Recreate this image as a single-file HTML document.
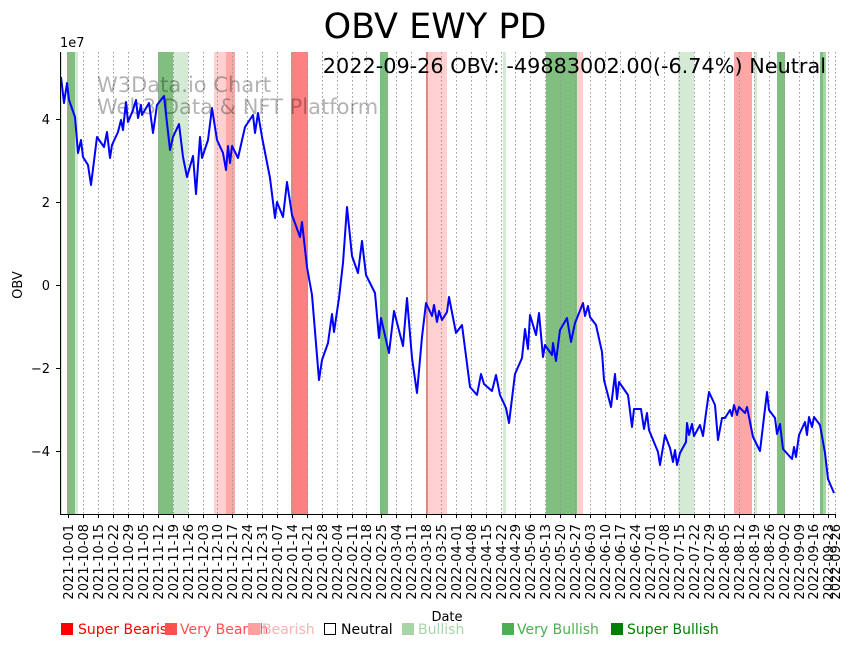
<!DOCTYPE html>
<html><head><meta charset="utf-8"><style>
html,body{margin:0;padding:0;background:#fff;}
svg{display:block;font-family:"DejaVu Sans","Liberation Sans",sans-serif;}
</style></head><body>
<svg width="853" height="646" viewBox="0 0 853 646" xmlns="http://www.w3.org/2000/svg">
<rect width="853" height="646" fill="#fff"/>
<g>
<rect x="60" y="52" width="2" height="462" fill="#d4ead4"/>
<rect x="67" y="52" width="8" height="462" fill="#80bf80"/>
<rect x="75" y="52" width="3" height="462" fill="#d4ead4"/>
<rect x="158" y="52" width="15" height="462" fill="#80bf80"/>
<rect x="173" y="52" width="15" height="462" fill="#d4ead4"/>
<rect x="214" y="52" width="12" height="462" fill="#ffd0d0"/>
<rect x="226" y="52" width="9" height="462" fill="#ffa6a6"/>
<rect x="291" y="52" width="17" height="462" fill="#ff8080"/>
<rect x="380" y="52" width="8" height="462" fill="#80bf80"/>
<rect x="426" y="52" width="2" height="462" fill="#ff8080"/>
<rect x="428" y="52" width="19" height="462" fill="#ffd0d0"/>
<rect x="503" y="52" width="3" height="462" fill="#d4ead4"/>
<rect x="546" y="52" width="31" height="462" fill="#80bf80"/>
<rect x="577" y="52" width="6" height="462" fill="#ffd0d0"/>
<rect x="678" y="52" width="16" height="462" fill="#d4ead4"/>
<rect x="734" y="52" width="18" height="462" fill="#ffa6a6"/>
<rect x="754" y="52" width="3" height="462" fill="#d4ead4"/>
<rect x="777" y="52" width="8" height="462" fill="#80bf80"/>
<rect x="820" y="52" width="3" height="462" fill="#80bf80"/>
<rect x="823" y="52" width="3" height="462" fill="#a8d4a8"/>
</g>
<g stroke="#999" stroke-width="1" stroke-dasharray="1.5,2.5">
<line x1="68.5" y1="52" x2="68.5" y2="514"/><line x1="83.5" y1="52" x2="83.5" y2="514"/><line x1="98.5" y1="52" x2="98.5" y2="514"/><line x1="113.5" y1="52" x2="113.5" y2="514"/><line x1="128.5" y1="52" x2="128.5" y2="514"/><line x1="143.5" y1="52" x2="143.5" y2="514"/><line x1="158.5" y1="52" x2="158.5" y2="514"/><line x1="173.5" y1="52" x2="173.5" y2="514"/><line x1="188.5" y1="52" x2="188.5" y2="514"/><line x1="203.5" y1="52" x2="203.5" y2="514"/><line x1="217.5" y1="52" x2="217.5" y2="514"/><line x1="232.5" y1="52" x2="232.5" y2="514"/><line x1="247.5" y1="52" x2="247.5" y2="514"/><line x1="262.5" y1="52" x2="262.5" y2="514"/><line x1="277.5" y1="52" x2="277.5" y2="514"/><line x1="292.5" y1="52" x2="292.5" y2="514"/><line x1="307.5" y1="52" x2="307.5" y2="514"/><line x1="322.5" y1="52" x2="322.5" y2="514"/><line x1="337.5" y1="52" x2="337.5" y2="514"/><line x1="352.5" y1="52" x2="352.5" y2="514"/><line x1="366.5" y1="52" x2="366.5" y2="514"/><line x1="381.5" y1="52" x2="381.5" y2="514"/><line x1="396.5" y1="52" x2="396.5" y2="514"/><line x1="411.5" y1="52" x2="411.5" y2="514"/><line x1="426.5" y1="52" x2="426.5" y2="514"/><line x1="441.5" y1="52" x2="441.5" y2="514"/><line x1="456.5" y1="52" x2="456.5" y2="514"/><line x1="471.5" y1="52" x2="471.5" y2="514"/><line x1="486.5" y1="52" x2="486.5" y2="514"/><line x1="501.5" y1="52" x2="501.5" y2="514"/><line x1="515.5" y1="52" x2="515.5" y2="514"/><line x1="530.5" y1="52" x2="530.5" y2="514"/><line x1="545.5" y1="52" x2="545.5" y2="514"/><line x1="560.5" y1="52" x2="560.5" y2="514"/><line x1="575.5" y1="52" x2="575.5" y2="514"/><line x1="590.5" y1="52" x2="590.5" y2="514"/><line x1="605.5" y1="52" x2="605.5" y2="514"/><line x1="620.5" y1="52" x2="620.5" y2="514"/><line x1="635.5" y1="52" x2="635.5" y2="514"/><line x1="650.5" y1="52" x2="650.5" y2="514"/><line x1="664.5" y1="52" x2="664.5" y2="514"/><line x1="679.5" y1="52" x2="679.5" y2="514"/><line x1="694.5" y1="52" x2="694.5" y2="514"/><line x1="709.5" y1="52" x2="709.5" y2="514"/><line x1="724.5" y1="52" x2="724.5" y2="514"/><line x1="739.5" y1="52" x2="739.5" y2="514"/><line x1="754.5" y1="52" x2="754.5" y2="514"/><line x1="769.5" y1="52" x2="769.5" y2="514"/><line x1="784.5" y1="52" x2="784.5" y2="514"/><line x1="799.5" y1="52" x2="799.5" y2="514"/><line x1="813.5" y1="52" x2="813.5" y2="514"/><line x1="828.5" y1="52" x2="828.5" y2="514"/><line x1="835.5" y1="52" x2="835.5" y2="514"/>
</g>
<text x="97" y="92" font-size="21" fill="#000" fill-opacity="0.3">W3Data.io Chart</text>
<text x="97" y="114" font-size="21" fill="#000" fill-opacity="0.3">Web3 Data &amp; NFT Platform</text>
<polyline fill="none" stroke="#0000ff" stroke-width="2" stroke-linejoin="round" points="61,77 64,103 67,83 69,100 75,117 78,153 81,140 83,157 88,165 91,185 97,137 104,147 107,132 110,158 112,145 118,132 121,120 123,130 126,102 128,122 133,110 136,100 138,118 141,105 142,115 149,103 153,133 157,105 164,96 170,150 173,137 179,124 183,157 187,177 193,156 196,194 200,137 202,158 208,140 212,108 217,140 223,153 226,170 228,146 230,163 232,146 238,158 245,127 253,115 255,133 258,113 262,137 270,178 275,218 277,202 283,217 287,182 292,215 300,237 302,222 307,267 312,295 319,380 322,360 328,343 332,314 334,332 339,298 343,263 347,207 352,256 358,273 362,241 366,275 375,293 379,338 381,318 389,353 394,311 403,346 407,298 412,358 417,393 422,337 426,303 432,316 434,305 437,322 439,311 442,320 447,312 449,297 456,333 462,325 470,387 477,395 481,374 484,384 492,391 496,375 500,395 506,408 509,423 515,374 522,358 525,329 528,349 530,315 536,335 539,313 543,357 545,345 552,355 553,343 556,361 560,330 567,318 571,342 575,323 583,303 585,316 588,306 590,317 596,325 602,352 604,380 611,407 615,374 617,399 619,382 628,395 632,427 634,409 641,409 644,429 647,413 649,430 658,452 660,465 665,435 670,448 673,462 675,450 677,465 680,453 686,442 687,423 689,435 692,424 694,436 700,425 703,436 706,413 709,392 715,405 718,440 722,418 725,418 730,410 732,416 734,405 737,415 739,407 745,413 747,407 753,437 760,451 767,392 769,410 775,418 777,434 780,424 783,449 792,459 794,447 796,457 799,435 805,422 807,435 809,417 812,427 814,417 820,425 825,453 828,479 834,493"/>
<g stroke="#000" stroke-width="1">
<line x1="60.5" y1="52" x2="60.5" y2="514.5"/>
<line x1="60" y1="514.5" x2="836" y2="514.5"/>
<line x1="56" y1="119.5" x2="60" y2="119.5"/><line x1="56" y1="202.5" x2="60" y2="202.5"/><line x1="56" y1="285.5" x2="60" y2="285.5"/><line x1="56" y1="368.5" x2="60" y2="368.5"/><line x1="56" y1="451.5" x2="60" y2="451.5"/>
</g>
<g font-size="13" fill="#000" text-anchor="end">
<text x="50" y="124">4</text><text x="50" y="207">2</text><text x="50" y="290">0</text><text x="50" y="373">−2</text><text x="50" y="456">−4</text>
</g>
<text x="60" y="47" font-size="13">1e7</text>
<text transform="translate(22,285) rotate(-90)" font-size="13" text-anchor="middle">OBV</text>
<text x="435" y="38" font-size="35" text-anchor="middle">OBV EWY PD</text>
<text x="826" y="73" font-size="20.8" text-anchor="end">2022-09-26 OBV: -49883002.00(-6.74%) Neutral</text>
<text x="447" y="621" font-size="13" text-anchor="middle">Date</text>
<g stroke="#000" stroke-width="1">
<line x1="68.5" y1="514" x2="68.5" y2="518"/><line x1="83.5" y1="514" x2="83.5" y2="518"/><line x1="98.5" y1="514" x2="98.5" y2="518"/><line x1="113.5" y1="514" x2="113.5" y2="518"/><line x1="128.5" y1="514" x2="128.5" y2="518"/><line x1="143.5" y1="514" x2="143.5" y2="518"/><line x1="158.5" y1="514" x2="158.5" y2="518"/><line x1="173.5" y1="514" x2="173.5" y2="518"/><line x1="188.5" y1="514" x2="188.5" y2="518"/><line x1="203.5" y1="514" x2="203.5" y2="518"/><line x1="217.5" y1="514" x2="217.5" y2="518"/><line x1="232.5" y1="514" x2="232.5" y2="518"/><line x1="247.5" y1="514" x2="247.5" y2="518"/><line x1="262.5" y1="514" x2="262.5" y2="518"/><line x1="277.5" y1="514" x2="277.5" y2="518"/><line x1="292.5" y1="514" x2="292.5" y2="518"/><line x1="307.5" y1="514" x2="307.5" y2="518"/><line x1="322.5" y1="514" x2="322.5" y2="518"/><line x1="337.5" y1="514" x2="337.5" y2="518"/><line x1="352.5" y1="514" x2="352.5" y2="518"/><line x1="366.5" y1="514" x2="366.5" y2="518"/><line x1="381.5" y1="514" x2="381.5" y2="518"/><line x1="396.5" y1="514" x2="396.5" y2="518"/><line x1="411.5" y1="514" x2="411.5" y2="518"/><line x1="426.5" y1="514" x2="426.5" y2="518"/><line x1="441.5" y1="514" x2="441.5" y2="518"/><line x1="456.5" y1="514" x2="456.5" y2="518"/><line x1="471.5" y1="514" x2="471.5" y2="518"/><line x1="486.5" y1="514" x2="486.5" y2="518"/><line x1="501.5" y1="514" x2="501.5" y2="518"/><line x1="515.5" y1="514" x2="515.5" y2="518"/><line x1="530.5" y1="514" x2="530.5" y2="518"/><line x1="545.5" y1="514" x2="545.5" y2="518"/><line x1="560.5" y1="514" x2="560.5" y2="518"/><line x1="575.5" y1="514" x2="575.5" y2="518"/><line x1="590.5" y1="514" x2="590.5" y2="518"/><line x1="605.5" y1="514" x2="605.5" y2="518"/><line x1="620.5" y1="514" x2="620.5" y2="518"/><line x1="635.5" y1="514" x2="635.5" y2="518"/><line x1="650.5" y1="514" x2="650.5" y2="518"/><line x1="664.5" y1="514" x2="664.5" y2="518"/><line x1="679.5" y1="514" x2="679.5" y2="518"/><line x1="694.5" y1="514" x2="694.5" y2="518"/><line x1="709.5" y1="514" x2="709.5" y2="518"/><line x1="724.5" y1="514" x2="724.5" y2="518"/><line x1="739.5" y1="514" x2="739.5" y2="518"/><line x1="754.5" y1="514" x2="754.5" y2="518"/><line x1="769.5" y1="514" x2="769.5" y2="518"/><line x1="784.5" y1="514" x2="784.5" y2="518"/><line x1="799.5" y1="514" x2="799.5" y2="518"/><line x1="813.5" y1="514" x2="813.5" y2="518"/><line x1="828.5" y1="514" x2="828.5" y2="518"/><line x1="835.5" y1="514" x2="835.5" y2="518"/>
</g>
<g font-size="13" fill="#000" text-anchor="end">
<text transform="translate(73,524) rotate(-90)">2021-10-01</text>
<text transform="translate(88,524) rotate(-90)">2021-10-08</text>
<text transform="translate(103,524) rotate(-90)">2021-10-15</text>
<text transform="translate(118,524) rotate(-90)">2021-10-22</text>
<text transform="translate(133,524) rotate(-90)">2021-10-29</text>
<text transform="translate(148,524) rotate(-90)">2021-11-05</text>
<text transform="translate(163,524) rotate(-90)">2021-11-12</text>
<text transform="translate(178,524) rotate(-90)">2021-11-19</text>
<text transform="translate(193,524) rotate(-90)">2021-11-26</text>
<text transform="translate(208,524) rotate(-90)">2021-12-03</text>
<text transform="translate(222,524) rotate(-90)">2021-12-10</text>
<text transform="translate(237,524) rotate(-90)">2021-12-17</text>
<text transform="translate(252,524) rotate(-90)">2021-12-24</text>
<text transform="translate(267,524) rotate(-90)">2021-12-31</text>
<text transform="translate(282,524) rotate(-90)">2022-01-07</text>
<text transform="translate(297,524) rotate(-90)">2022-01-14</text>
<text transform="translate(312,524) rotate(-90)">2022-01-21</text>
<text transform="translate(327,524) rotate(-90)">2022-01-28</text>
<text transform="translate(342,524) rotate(-90)">2022-02-04</text>
<text transform="translate(357,524) rotate(-90)">2022-02-11</text>
<text transform="translate(371,524) rotate(-90)">2022-02-18</text>
<text transform="translate(386,524) rotate(-90)">2022-02-25</text>
<text transform="translate(401,524) rotate(-90)">2022-03-04</text>
<text transform="translate(416,524) rotate(-90)">2022-03-11</text>
<text transform="translate(431,524) rotate(-90)">2022-03-18</text>
<text transform="translate(446,524) rotate(-90)">2022-03-25</text>
<text transform="translate(461,524) rotate(-90)">2022-04-01</text>
<text transform="translate(476,524) rotate(-90)">2022-04-08</text>
<text transform="translate(491,524) rotate(-90)">2022-04-15</text>
<text transform="translate(506,524) rotate(-90)">2022-04-22</text>
<text transform="translate(520,524) rotate(-90)">2022-04-29</text>
<text transform="translate(535,524) rotate(-90)">2022-05-06</text>
<text transform="translate(550,524) rotate(-90)">2022-05-13</text>
<text transform="translate(565,524) rotate(-90)">2022-05-20</text>
<text transform="translate(580,524) rotate(-90)">2022-05-27</text>
<text transform="translate(595,524) rotate(-90)">2022-06-03</text>
<text transform="translate(610,524) rotate(-90)">2022-06-10</text>
<text transform="translate(625,524) rotate(-90)">2022-06-17</text>
<text transform="translate(640,524) rotate(-90)">2022-06-24</text>
<text transform="translate(655,524) rotate(-90)">2022-07-01</text>
<text transform="translate(669,524) rotate(-90)">2022-07-08</text>
<text transform="translate(684,524) rotate(-90)">2022-07-15</text>
<text transform="translate(699,524) rotate(-90)">2022-07-22</text>
<text transform="translate(714,524) rotate(-90)">2022-07-29</text>
<text transform="translate(729,524) rotate(-90)">2022-08-05</text>
<text transform="translate(744,524) rotate(-90)">2022-08-12</text>
<text transform="translate(759,524) rotate(-90)">2022-08-19</text>
<text transform="translate(774,524) rotate(-90)">2022-08-26</text>
<text transform="translate(789,524) rotate(-90)">2022-09-02</text>
<text transform="translate(804,524) rotate(-90)">2022-09-09</text>
<text transform="translate(818,524) rotate(-90)">2022-09-16</text>
<text transform="translate(833,524) rotate(-90)">2022-09-23</text>
<text transform="translate(840,524) rotate(-90)">2022-09-26</text>
</g>
<g font-size="14">
<rect x="61" y="623" width="12" height="12" fill="#ff0000"/><text x="78" y="634" fill="#ff0000">Super Bearish</text>
<rect x="165" y="623" width="12" height="12" fill="#ff5050"/><text x="180" y="634" fill="#ff5050">Very Bearish</text>
<rect x="248" y="623" width="12" height="12" fill="#ffa0a0"/><text x="262" y="634" fill="#ffb0b0">Bearish</text>
<rect x="324.5" y="623.5" width="11" height="11" fill="#fff" stroke="#000"/><text x="341" y="634" fill="#000">Neutral</text>
<rect x="402" y="623" width="12" height="12" fill="#a8d4a8"/><text x="418" y="634" fill="#a8d4a8">Bullish</text>
<rect x="502" y="623" width="12" height="12" fill="#4caf50"/><text x="517" y="634" fill="#4caf50">Very Bullish</text>
<rect x="611" y="623" width="12" height="12" fill="#008000"/><text x="627" y="634" fill="#008000">Super Bullish</text>
</g>
</svg>
</body></html>
